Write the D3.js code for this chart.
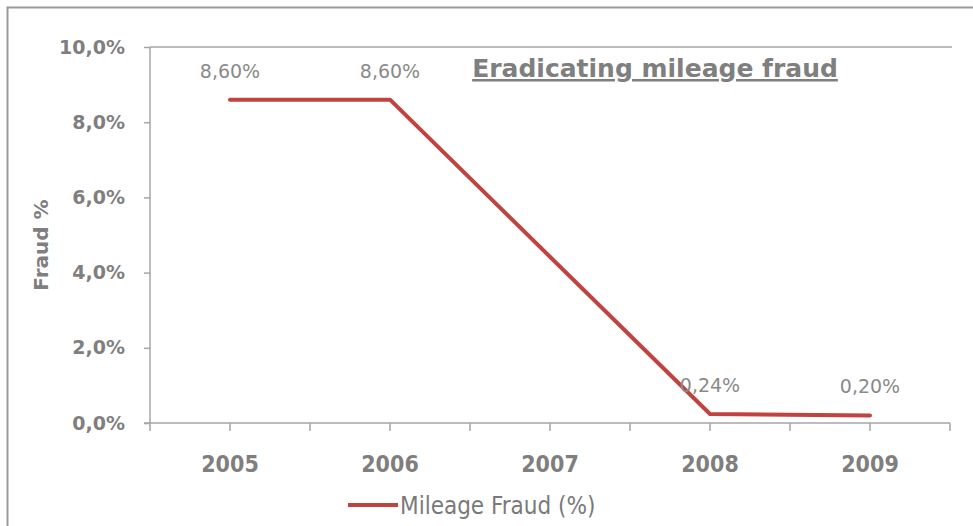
<!DOCTYPE html>
<html>
<head>
<meta charset="utf-8">
<script src="https://cdn.jsdelivr.net/npm/d3@7"></script>
<style>
  html, body { margin: 0; padding: 0; background: #fff; }
  svg { display: block; }
</style>
</head>
<body>
<svg id="chart" width="973" height="526"></svg>
<script>
// Mileage fraud share per year (2007 has no recorded value)
const years = ["2005", "2006", "2007", "2008", "2009"];
const fraudPct = [8.60, 8.60, null, 0.24, 0.20];
const yTicks = [0, 2, 4, 6, 8, 10];
const seriesName = "Mileage Fraud (%)";
const chartTitle = "Eradicating mileage fraud";
const yTitle = "Fraud %";

const svg = d3.select("#chart");
const W = 973, H = 526;
const plot = { left: 150, right: 950, top: 47, bottom: 423 };
const grey = "#7f7f7f";
const lineColor = "#c0433f";
const fmtComma = (v, d) => v.toFixed(d).replace(".", ",") + "%";

// outer frame
svg.append("rect")
  .attr("x", 7.5).attr("y", 7.5)
  .attr("width", W + 10).attr("height", H + 10)
  .attr("fill", "none").attr("stroke", "#9a9a9a").attr("stroke-width", 2);

const x = d3.scaleBand().domain(years).range([plot.left, plot.right]);
const y = d3.scaleLinear().domain([0, 10]).range([plot.bottom, plot.top]);

// top gridline (10%)
svg.append("line")
  .attr("x1", plot.left).attr("x2", plot.right + 2)
  .attr("y1", y(10)).attr("y2", y(10))
  .attr("stroke", "#a6a6a6").attr("stroke-width", 1.5);

// y axis
const yAxis = svg.append("g")
  .attr("transform", `translate(${plot.left},0)`)
  .call(d3.axisLeft(y).tickValues(yTicks).tickSize(6).tickPadding(19)
    .tickFormat(d => fmtComma(d, 1)));
yAxis.select(".domain").attr("stroke", "#a6a6a6").attr("stroke-width", 1.5)
  .attr("d", `M-6,${plot.bottom}H0V${plot.top}`);
yAxis.selectAll(".tick line").attr("stroke", "#a6a6a6").attr("stroke-width", 1.5);
yAxis.selectAll(".tick text")
  .attr("fill", grey)
  .style("font-family", "'DejaVu Sans', Verdana, sans-serif")
  .style("font-weight", "bold")
  .style("font-size", "19px");

// x axis: ticks at band edges and centres
const xTickPos = [];
years.forEach(yr => { xTickPos.push(x(yr)); xTickPos.push(x(yr) + x.bandwidth() / 2); });
xTickPos.push(plot.right);
const xg = svg.append("g").attr("transform", `translate(0,${plot.bottom})`);
xg.append("line").attr("x1", plot.left).attr("x2", plot.right)
  .attr("stroke", "#a6a6a6").attr("stroke-width", 1.5);
xg.selectAll("line.tk").data(xTickPos).join("line").attr("class", "tk")
  .attr("x1", d => d).attr("x2", d => d).attr("y1", 0).attr("y2", 8)
  .attr("stroke", "#a6a6a6").attr("stroke-width", 1.5);
xg.selectAll("text").data(years).join("text")
  .attr("x", d => x(d) + x.bandwidth() / 2)
  .attr("y", 49)
  .attr("text-anchor", "middle")
  .attr("fill", grey)
  .style("font-family", "'DejaVu Sans Condensed', 'Liberation Sans Narrow', sans-serif")
  .style("font-weight", "bold")
  .style("font-size", "23px")
  .text(d => d);

// y axis title
svg.append("text")
  .attr("transform", `translate(48,245) rotate(-90)`)
  .attr("text-anchor", "middle")
  .attr("fill", grey)
  .style("font-family", "'DejaVu Sans', Verdana, sans-serif")
  .style("font-weight", "bold")
  .style("font-size", "20px")
  .text(yTitle);

// data line (gap year bridged)
const pts = years.map((yr, i) => ({ yr, v: fraudPct[i] })).filter(d => d.v != null);
const cx = d => x(d.yr) + x.bandwidth() / 2;
svg.append("path")
  .datum(pts)
  .attr("fill", "none")
  .attr("stroke", lineColor)
  .attr("stroke-width", 4)
  .attr("stroke-linejoin", "round")
  .attr("stroke-linecap", "round")
  .attr("d", d3.line().x(cx).y(d => y(d.v)));

// value labels
svg.selectAll("text.val").data(pts).join("text").attr("class", "val")
  .attr("x", cx)
  .attr("y", d => y(d.v) - 22)
  .attr("text-anchor", "middle")
  .attr("fill", "#8a8a8a")
  .style("font-family", "'DejaVu Sans', Verdana, sans-serif")
  .style("font-size", "19px")
  .text(d => fmtComma(d.v, 2));

// title
svg.append("text")
  .attr("x", 655).attr("y", 77)
  .attr("text-anchor", "middle")
  .attr("fill", grey)
  .attr("text-decoration", "underline")
  .style("font-family", "'DejaVu Sans', Verdana, sans-serif")
  .style("font-weight", "bold")
  .style("font-size", "25px")
  .text(chartTitle);

// legend
svg.append("line")
  .attr("x1", 348).attr("x2", 398).attr("y1", 505).attr("y2", 505)
  .attr("stroke", lineColor).attr("stroke-width", 4);
svg.append("text")
  .attr("x", 400).attr("y", 514)
  .attr("fill", "#7a7a7a")
  .style("font-family", "'DejaVu Sans Condensed', 'Liberation Sans Narrow', sans-serif")
  .style("font-size", "24px")
  .text(seriesName);
</script>
</body>
</html>
